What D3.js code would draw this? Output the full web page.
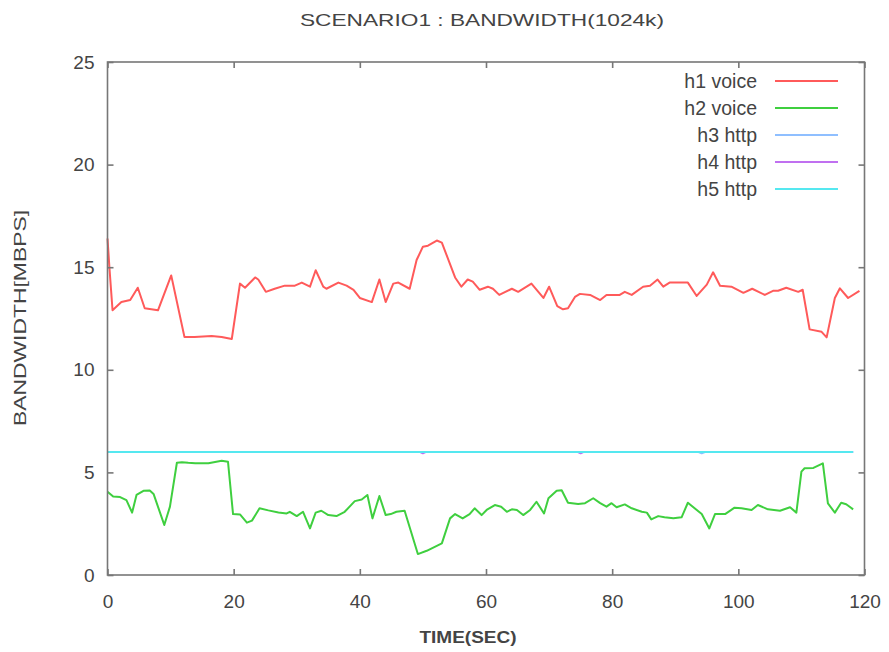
<!DOCTYPE html>
<html>
<head>
<meta charset="utf-8">
<script src="https://cdn.jsdelivr.net/npm/d3@7"></script>
<style>
  html, body { margin: 0; padding: 0; background: #fff; }
  svg { display: block; }
  text { font-family: "Liberation Sans", Arial, sans-serif; fill: #444; }
</style>
</head>
<body>
<svg id="chart" width="889" height="652"></svg>
<script>
// Bandwidth samples per host: [time (s), bandwidth (Mbps)]
const h1Voice = [
  [0, 16.4], [0.3, 15.0], [0.8, 12.9], [2.2, 13.3], [3.6, 13.4], [4.8, 14.0], [5.9, 13.0],
  [8.0, 12.9], [10.1, 14.6], [12.2, 11.6], [13.8, 11.6], [16.5, 11.65], [18.1, 11.6],
  [19.7, 11.5], [21.0, 14.2], [21.8, 14.0], [23.4, 14.5], [23.9, 14.4], [25.1, 13.8],
  [26.5, 13.95], [28.1, 14.1], [29.7, 14.1], [30.8, 14.25], [32.1, 14.05], [33.0, 14.85],
  [34.2, 14.05], [34.7, 13.95], [36.6, 14.25], [37.9, 14.1], [39.0, 13.9], [40.0, 13.5],
  [41.9, 13.3], [43.1, 14.4], [44.1, 13.3], [45.3, 14.2], [46.1, 14.25], [47.9, 13.95],
  [49.0, 15.35], [50.0, 16.0], [50.8, 16.05], [52.2, 16.3], [53.0, 16.2], [55.1, 14.5],
  [56.1, 14.05], [57.1, 14.4], [57.9, 14.3], [59.0, 13.9], [60.3, 14.05], [61.1, 13.95],
  [62.1, 13.65], [64.1, 13.95], [65.1, 13.8], [67.2, 14.2], [69.1, 13.5], [70.0, 14.05],
  [71.3, 13.1], [72.2, 12.95], [73.0, 13.0], [74.1, 13.55], [74.9, 13.7], [76.5, 13.65],
  [78.1, 13.4], [79.1, 13.65], [81.2, 13.65], [82.0, 13.8], [83.1, 13.65], [84.9, 14.05],
  [86.0, 14.1], [87.2, 14.4], [88.1, 14.05], [89.1, 14.25], [92.0, 14.25], [93.4, 13.6],
  [95.0, 14.15], [96.0, 14.75], [97.1, 14.1], [98.9, 14.05], [100.8, 13.75], [102.2, 13.95],
  [104.2, 13.65], [105.5, 13.85], [106.3, 13.85], [107.6, 14.0], [109.5, 13.8], [110.2, 13.9],
  [111.3, 11.97], [113.2, 11.85], [114.0, 11.58], [115.3, 13.5], [116.1, 13.97], [117.4, 13.5],
  [119.2, 13.85]
];

const h2Voice = [
  [0, 4.06], [0.9, 3.82], [2.0, 3.8], [3.0, 3.65], [3.9, 3.04], [4.6, 3.9], [5.7, 4.1],
  [6.7, 4.12], [7.3, 3.95], [9.0, 2.44], [9.9, 3.33], [11.0, 5.47], [11.8, 5.5], [12.8, 5.47],
  [13.9, 5.45], [16.0, 5.45], [18.1, 5.57], [19.1, 5.52], [19.9, 2.97], [21.0, 2.95],
  [22.1, 2.55], [22.9, 2.65], [24.1, 3.25], [25.5, 3.15], [27.1, 3.05], [28.4, 3.0],
  [28.9, 3.08], [30.0, 2.87], [31.0, 3.08], [32.1, 2.27], [33.0, 3.04], [33.9, 3.13],
  [35.0, 2.92], [36.3, 2.87], [37.6, 3.08], [39.2, 3.6], [40.3, 3.68], [41.2, 3.9],
  [42.0, 2.76], [43.1, 3.85], [44.1, 2.92], [44.9, 2.97], [45.8, 3.08], [47.1, 3.13],
  [49.2, 1.02], [50.6, 1.18], [53.0, 1.54], [54.3, 2.76], [55.1, 2.97], [56.3, 2.76],
  [57.4, 2.97], [58.2, 3.25], [59.3, 2.92], [60.1, 3.17], [61.4, 3.41], [62.4, 3.33],
  [63.3, 3.08], [64.1, 3.2], [64.9, 3.17], [65.9, 2.92], [67.0, 3.17], [68.0, 3.57],
  [69.2, 3.0], [69.9, 3.74], [71.2, 4.11], [72.0, 4.13], [73.0, 3.52], [74.6, 3.46],
  [75.7, 3.5], [77.0, 3.74], [78.1, 3.5], [79.1, 3.33], [79.9, 3.5], [80.7, 3.3],
  [82.0, 3.44], [83.1, 3.25], [84.7, 3.08], [85.5, 3.04], [86.2, 2.71], [87.3, 2.87],
  [88.3, 2.81], [89.7, 2.76], [91.0, 2.81], [92.0, 3.52], [94.2, 2.97], [95.4, 2.27],
  [96.3, 2.97], [97.9, 2.97], [99.4, 3.28], [100.5, 3.25], [102.1, 3.17], [103.1, 3.41],
  [104.7, 3.2], [106.6, 3.13], [108.2, 3.3], [109.2, 3.04], [110.0, 5.04], [110.5, 5.2],
  [111.9, 5.22], [113.4, 5.44], [114.2, 3.49], [115.3, 3.04], [116.3, 3.52], [117.1, 3.45],
  [118.2, 3.2]
];

const h3Http = [[0, 6.0], [93.6, 6.0], [94.2, 5.93], [94.8, 6.0], [118.2, 6.0]];
const h4Http = [[0, 6.0], [49.5, 6.0], [50.0, 5.93], [50.5, 6.0], [74.5, 6.0], [75.0, 5.93], [75.5, 6.0], [118.2, 6.0]];
const h5Http = [[0, 6.0], [118.2, 6.0]];

const seriesNames = ["h1 voice", "h2 voice", "h3 http", "h4 http", "h5 http"];
const seriesColors = ["#ff5a5a", "#3fcf3f", "#8fbfff", "#c070f0", "#55e8f0"];
const seriesData = [h1Voice, h2Voice, h3Http, h4Http, h5Http];

const xTicks = [0, 20, 40, 60, 80, 100, 120];
const yTicks = [0, 5, 10, 15, 20, 25];

const svg = d3.select("#chart");
const plot = { left: 107.5, right: 864.5, top: 62, bottom: 575 };

const x = d3.scaleLinear().domain([0, 120]).range([plot.left, plot.right]);
const y = d3.scaleLinear().domain([0, 25]).range([plot.bottom, plot.top]);

// Title
svg.append("text")
  .attr("x", 482).attr("y", 26)
  .attr("text-anchor", "middle")
  .attr("font-size", 17)
  .attr("textLength", 364).attr("lengthAdjust", "spacingAndGlyphs")
  .text("SCENARIO1 : BANDWIDTH(1024k)");

// Series lines
const line = d3.line().x(d => x(d[0])).y(d => y(d[1]));
seriesData.forEach((data, i) => {
  svg.append("path")
    .datum(data)
    .attr("fill", "none")
    .attr("stroke", seriesColors[i])
    .attr("stroke-width", 2)
    .attr("stroke-linejoin", "round")
    .attr("d", line);
});

// Frame with inward ticks on all four sides
const frameColor = "#777";
svg.append("rect")
  .attr("x", plot.left).attr("y", plot.top)
  .attr("width", plot.right - plot.left).attr("height", plot.bottom - plot.top)
  .attr("fill", "none").attr("stroke", frameColor).attr("stroke-width", 1.6);

const xBottom = svg.append("g").attr("transform", `translate(0,${plot.bottom})`)
  .call(d3.axisBottom(x).tickValues(xTicks).tickSizeInner(-6).tickSizeOuter(0).tickPadding(20));
const xTop = svg.append("g").attr("transform", `translate(0,${plot.top})`)
  .call(d3.axisTop(x).tickValues(xTicks).tickSizeInner(-6).tickSizeOuter(0).tickFormat(""));
const yLeft = svg.append("g").attr("transform", `translate(${plot.left},0)`)
  .call(d3.axisLeft(y).tickValues(yTicks).tickSizeInner(-6).tickSizeOuter(0).tickPadding(13));
const yRight = svg.append("g").attr("transform", `translate(${plot.right},0)`)
  .call(d3.axisRight(y).tickValues(yTicks).tickSizeInner(-6).tickSizeOuter(0).tickFormat(""));

[xBottom, xTop, yLeft, yRight].forEach(g => {
  g.select(".domain").remove();
  g.selectAll(".tick line").attr("stroke", frameColor).attr("stroke-width", 1.6);
  g.selectAll(".tick text")
    .attr("font-family", "'Liberation Sans', Arial, sans-serif")
    .attr("font-size", 19).attr("fill", "#555");
});

// Axis titles
svg.append("text")
  .attr("x", 468).attr("y", 643)
  .attr("text-anchor", "middle")
  .attr("font-size", 17)
  .attr("font-weight", "bold")
  .attr("textLength", 97).attr("lengthAdjust", "spacingAndGlyphs")
  .attr("fill", "#222")
  .text("TIME(SEC)");

svg.append("text")
  .attr("transform", "translate(26,318) rotate(-90)")
  .attr("text-anchor", "middle")
  .attr("font-size", 17)
  .attr("textLength", 216).attr("lengthAdjust", "spacingAndGlyphs")
  .text("BANDWIDTH[MBPS]");

// Legend
const legend = svg.append("g");
seriesNames.forEach((name, i) => {
  const rowY = 81 + i * 27;
  legend.append("text")
    .attr("x", 757).attr("y", rowY + 7)
    .attr("text-anchor", "end")
    .attr("font-size", 19.5)
    .text(name);
  legend.append("line")
    .attr("x1", 775).attr("x2", 838)
    .attr("y1", rowY).attr("y2", rowY)
    .attr("stroke", seriesColors[i]).attr("stroke-width", 2);
});
</script>
</body>
</html>
